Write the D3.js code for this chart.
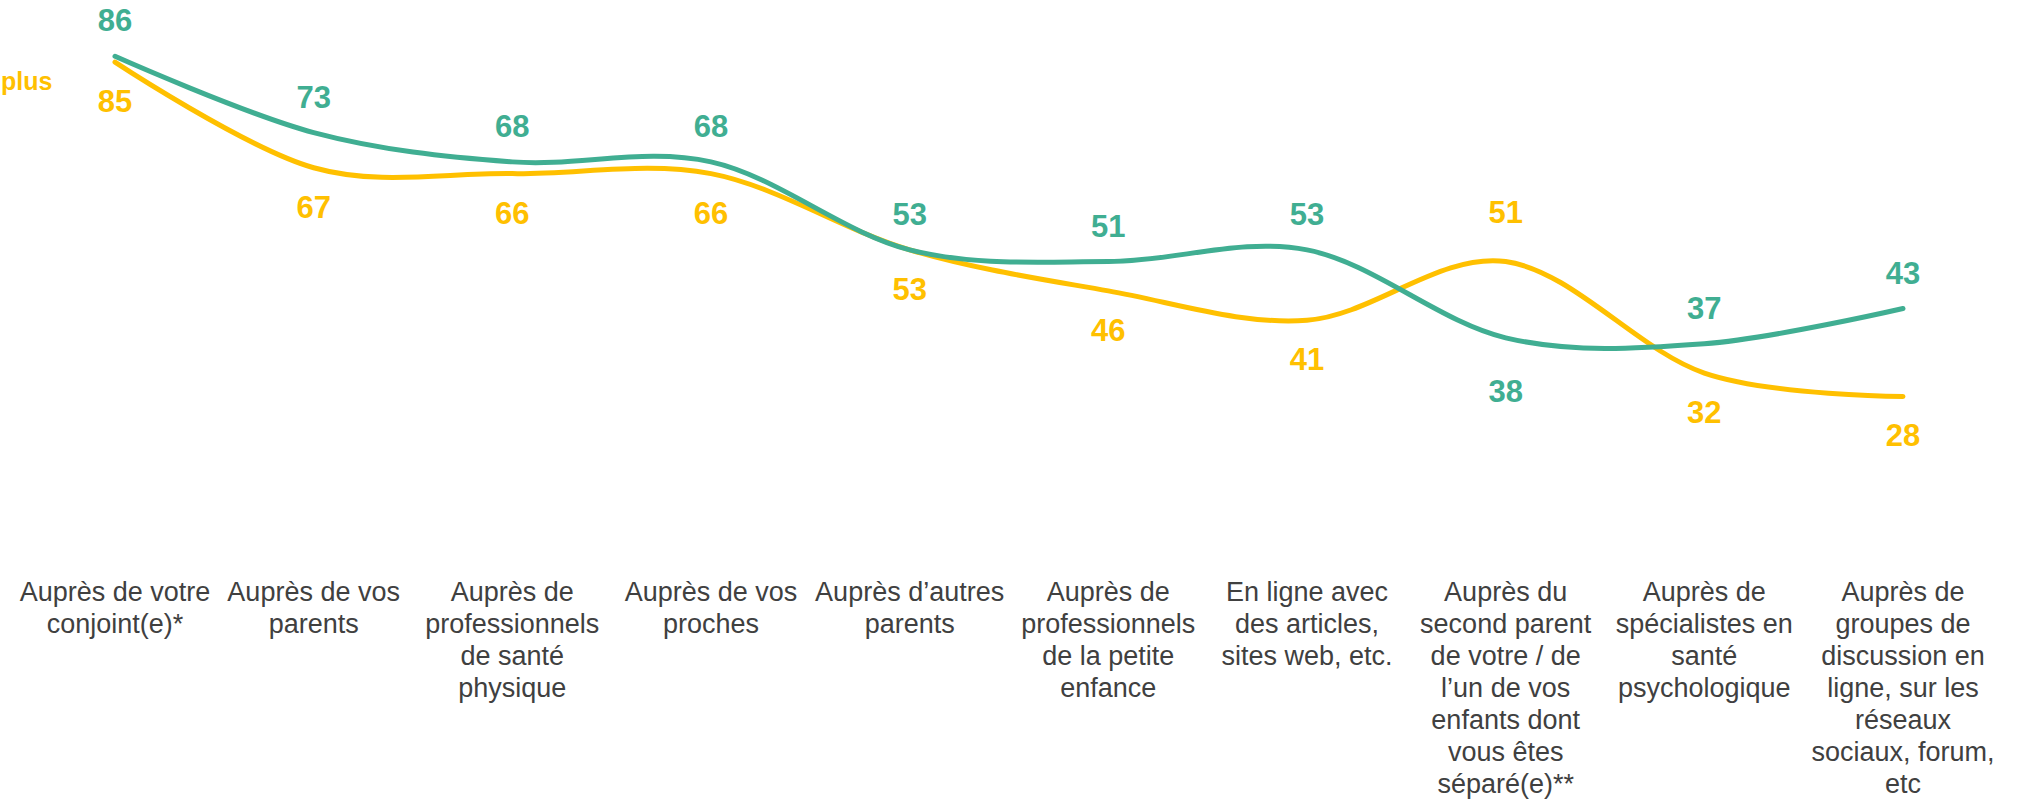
<!DOCTYPE html>
<html>
<head>
<meta charset="utf-8">
<script src="https://cdn.jsdelivr.net/npm/d3@7"></script>
<style>
  html, body { margin: 0; padding: 0; background: #fff; }
  svg { display: block; }
  text { font-family: "Liberation Sans", Arial, sans-serif; }
</style>
</head>
<body>
<div id="chart"></div>
<script>
// catégories (retours à la ligne comme sur l'original)
const categories = [
  ["Auprès de votre", "conjoint(e)*"],
  ["Auprès de vos", "parents"],
  ["Auprès de", "professionnels", "de santé", "physique"],
  ["Auprès de vos", "proches"],
  ["Auprès d’autres", "parents"],
  ["Auprès de", "professionnels", "de la petite", "enfance"],
  ["En ligne avec", "des articles,", "sites web, etc."],
  ["Auprès du", "second parent", "de votre / de", "l’un de vos", "enfants dont", "vous êtes", "séparé(e)**"],
  ["Auprès de", "spécialistes en", "santé", "psychologique"],
  ["Auprès de", "groupes de", "discussion en", "ligne, sur les", "réseaux", "sociaux, forum,", "etc"]
];

const greenValues = [86, 73, 68, 68, 53, 51, 53, 38, 37, 43];
const yellowValues = [85, 67, 66, 66, 53, 46, 41, 51, 32, 28];

const legendText = "plus";

const width = 2018, height = 801;
const green = "#40ae92", yellow = "#ffc000";

const svg = d3.select("#chart").append("svg")
  .attr("width", width)
  .attr("height", height);

const xScale = d3.scalePoint()
  .domain(d3.range(categories.length))
  .range([115, 1903]);

const yScale = d3.scaleLinear()
  .domain([0, 100])
  .range([560.7, -25.8]);

const line = d3.line()
  .x((d, i) => xScale(i))
  .y(d => yScale(d))
  .curve(d3.curveCardinal.tension(0));

const series = [
  { values: yellowValues, color: yellow, other: greenValues, first: false },
  { values: greenValues, color: green, other: yellowValues, first: true }
];

// lignes
series.forEach(s => {
  svg.append("path")
    .datum(s.values)
    .attr("fill", "none")
    .attr("stroke", s.color)
    .attr("stroke-width", 5)
    .attr("stroke-linecap", "round")
    .attr("d", line);
});

// étiquettes de valeurs : la série la plus haute au-dessus, l'autre en dessous
const extraGap = { 7: 14 };
series.forEach(s => {
  svg.append("g").selectAll("text")
    .data(s.values)
    .join("text")
    .attr("x", (d, i) => xScale(i))
    .attr("y", (d, i) => {
      const above = s.first ? d >= s.other[i] : d > s.other[i];
      const gap = extraGap[i] || 0;
      return above ? yScale(d) - 25 - gap : yScale(d) + 50 + gap;
    })
    .attr("text-anchor", "middle")
    .attr("font-size", 31)
    .attr("font-weight", "bold")
    .attr("fill", s.color)
    .text(d => d);
});

// axe des catégories (sans trait)
const axis = svg.append("g")
  .attr("transform", "translate(0,601)");

axis.selectAll("text")
  .data(categories)
  .join("text")
  .attr("x", (d, i) => xScale(i))
  .attr("y", 0)
  .attr("text-anchor", "middle")
  .attr("font-size", 27)
  .attr("fill", "#404040")
  .each(function (lines) {
    const t = d3.select(this);
    const x = t.attr("x");
    lines.forEach((l, k) => {
      t.append("tspan")
        .attr("x", x)
        .attr("dy", k === 0 ? 0 : 32)
        .text(l);
    });
  });

// légende
svg.append("text")
  .attr("x", 1)
  .attr("y", 90)
  .attr("font-size", 25)
  .attr("font-weight", "bold")
  .attr("fill", yellow)
  .text(legendText);
</script>
</body>
</html>
